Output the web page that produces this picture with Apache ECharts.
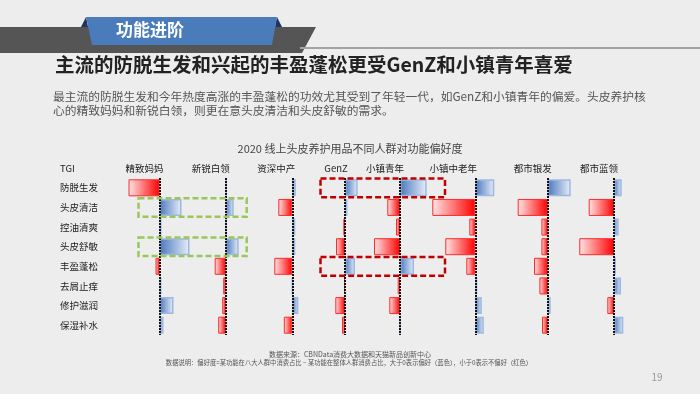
<!DOCTYPE html>
<html><head><meta charset="utf-8">
<script src="https://cdn.jsdelivr.net/npm/echarts@6/dist/echarts.min.js"></script>
<style>html,body{margin:0;padding:0;background:#ededed}#c{width:700px;height:394px}</style>
</head><body><div id="c"></div>
<script>
// ---- data ----
const rows = ['防脱生发','头皮清洁','控油清爽','头皮舒敏','丰盈蓬松','去屑止痒','修护滋润','保湿补水'];
const groups = ['精致妈妈','新锐白领','资深中产','GenZ','小镇青年','小镇中老年','都市银发','都市蓝领'];
const v_jingzhimama   = [-3.1, 2.2, 0.2, 3.0, -0.4, 0.2, 1.4, 0.4];
const v_xinruibailing = [0.1, 0.8, 0.05, 1.3, -1.1, -0.25, -0.35, -0.75];
const v_zishenzhongchan = [0.35, -1.4, 0.3, 0.3, -1.8, 0.0, 0.6, -0.85];
const v_genz          = [1.27, 0.25, -0.17, -0.9, 1.0, -0.1, -0.97, -0.3];
const v_xiaozhenqingnian = [2.67, -1.27, -0.4, -2.6, 1.4, -0.23, -1.07, 0.0];
const v_xiaozhenzhonglaonian = [1.9, -4.3, -0.6, -3.0, -0.9, 0.2, 0.65, 0.85];
const v_dushiyinfa    = [2.3, -3.0, -0.63, -0.63, -1.37, -0.83, 0.3, -0.57];
const v_dushilanling  = [0.77, -2.53, 0.47, -3.47, 0.2, 0.7, -0.67, 0.93];
const groupValues = [v_jingzhimama, v_xinruibailing, v_zishenzhongchan, v_genz, v_xiaozhenqingnian, v_xiaozhenzhonglaonian, v_dushiyinfa, v_dushilanling];
// highlight boxes: row, first group, last group
const boxRows = ['头皮清洁','头皮舒敏','防脱生发','丰盈蓬松'];
const boxFrom = [0, 0, 3, 3];
const boxTo   = [1, 1, 4, 4];

// ---- layout ----
const baselines = [159.5, 225.7, 292.3, 345, 400, 475.3, 547.7, 614];
const headerOffset = [-15, -15, -16, -9, -15, -22, -15, -15];
const GT = 178, GH = 157;
const boxStyle = [
  {padL:21, padR:21, color:'#9bc75a'},
  {padL:21, padR:21, color:'#9bc75a'},
  {padL:24.5, padR:45, color:'#c00000'},
  {padL:24.5, padR:45, color:'#c00000'}
];
const FONT = '"Noto Sans CJK SC","Noto Sans",sans-serif';

const redFill = {type:'linear',x:0,y:0,x2:1,y2:0,colorStops:[{offset:0,color:'#ffe6e6'},{offset:1,color:'#ff0000'}]};
const blueFill = {type:'linear',x:0,y:0,x2:1,y2:0,colorStops:[{offset:0,color:'#4a78bf'},{offset:1,color:'#e8eef8'}]};

const grids = [], xAxes = [], yAxes = [], series = [];
groups.forEach((g, i) => {
  grids.push({left: baselines[i] - 50, width: 100, top: GT, height: GH});
  xAxes.push({gridIndex: i, type: 'value', min: -5, max: 5, show: false});
  yAxes.push({gridIndex: i, type: 'category', data: rows, inverse: true, show: false});
  series.push({
    type: 'bar', name: g, xAxisIndex: i, yAxisIndex: i, barWidth: 17,
    data: groupValues[i].map(v => ({
      value: v,
      itemStyle: v < 0
        ? {color: redFill, borderColor: '#ff2a2a', borderWidth: 1}
        : {color: blueFill, borderColor: '#9db8e2', borderWidth: 1.5}
    })),
    markLine: {
      silent: true, symbol: 'none', label: {show: false},
      lineStyle: {color: '#111', width: 2, type: [2, 1]},
      data: [{xAxis: 0}]
    },
    z: 3
  });
});
// overlay grid for row labels and highlight boxes
const oi = groups.length;
grids.push({left: 60, right: 0, top: GT, height: GH});
xAxes.push({gridIndex: oi, type: 'value', min: 60, max: 700, show: false});
yAxes.push({gridIndex: oi, type: 'category', data: rows, inverse: true,
  axisLine: {show: false}, axisTick: {show: false},
  axisLabel: {inside: true, margin: 0, align: 'left', fontSize: 9.5, color: '#222', fontFamily: FONT}});
series.push({
  type: 'custom', xAxisIndex: oi, yAxisIndex: oi, clip: false, z: 10, silent: true,
  data: boxRows.map((r, k) => [k, rows.indexOf(r)]),
  encode: {x: -1, y: 1},
  renderItem: function (params, api) {
    const k = params.dataIndex;
    const st = boxStyle[k];
    const ri = rows.indexOf(boxRows[k]);
    const x1 = baselines[boxFrom[k]] - st.padL;
    const x2 = baselines[boxTo[k]] + st.padR;
    const p1 = api.coord([x1, ri]);
    const p2 = api.coord([x2, ri]);
    const h = api.size([0, 1])[1] - 1;
    return {type: 'rect', shape: {x: p1[0], y: p1[1] - h / 2, width: p2[0] - p1[0], height: h},
      style: {fill: 'none', stroke: st.color, lineWidth: 2.5, lineDash: [6, 3]}};
  }
});

const graphic = [
  {type:'polygon', shape:{points:[[0,27],[316,27],[302,53],[0,53]]}, style:{fill:'#555555'}, z:1},
  {type:'line', shape:{x1:300,y1:48,x2:700,y2:48}, style:{stroke:'#a3a3a3', lineWidth:2}, z:1},
  {type:'polygon', shape:{points:[[86,17],[88,27],[81,27]]}, style:{fill:'#1d3560'}, z:2},
  {type:'polygon', shape:{points:[[277,17],[275,27],[282,27]]}, style:{fill:'#1d3560'}, z:2},
  {type:'polygon', shape:{points:[[86,17],[277,17],[272,45],[92,45]]}, style:{fill:'#4a7cbb'}, z:3},
  {type:'text', style:{x:150,y:30,text:'功能进阶',fill:'#fff',font:'bold 17px '+FONT,textAlign:'center',textVerticalAlign:'middle'}, z:4},
  {type:'text', style:{x:55,y:65,text:'主流的防脱生发和兴起的丰盈蓬松更受GenZ和小镇青年喜爱',fill:'#222',font:'bold 19.5px '+FONT,textVerticalAlign:'middle'}},
  {type:'text', style:{x:53,y:97,text:'最主流的防脱生发和今年热度高涨的丰盈蓬松的功效尤其受到了年轻一代，如GenZ和小镇青年的偏爱。头皮养护核',fill:'#555',font:'11.75px '+FONT,textVerticalAlign:'middle'}},
  {type:'text', style:{x:53,y:111,text:'心的精致妈妈和新锐白领，则更在意头皮清洁和头皮舒敏的需求。',fill:'#555',font:'11.75px '+FONT,textVerticalAlign:'middle'}},
  {type:'text', style:{x:350,y:149,text:'2020 线上头皮养护用品不同人群对功能偏好度',fill:'#444',font:'11px '+FONT,textAlign:'center',textVerticalAlign:'middle'}},
  {type:'text', style:{x:60,y:168,text:'TGI',fill:'#222',font:'9.5px '+FONT,textVerticalAlign:'middle'}},
  {type:'text', style:{x:350,y:354,text:'数据来源：CBNData消费大数据和天猫新品创新中心',fill:'#555',font:'7px '+FONT,textAlign:'center',textVerticalAlign:'middle'}},
  {type:'text', style:{x:349,y:363,text:'数据说明：偏好度=某功能在八大人群中消费占比 − 某功能在整体人群消费占比，大于0表示偏好（蓝色），小于0表示不偏好（红色）',fill:'#555',font:'6.3px '+FONT,textAlign:'center',textVerticalAlign:'middle'}},
  {type:'text', style:{x:657,y:377,text:'19',fill:'#999',font:'10px '+FONT,textAlign:'center',textVerticalAlign:'middle'}}
];
groups.forEach((g, i) => {
  graphic.push({type:'text', style:{x: baselines[i] + headerOffset[i], y: 168, text: g, fill:'#222', font:'9.5px '+FONT, textAlign:'center', textVerticalAlign:'middle'}});
});

const chart = echarts.init(document.getElementById('c'), null, {renderer: 'canvas'});
chart.setOption({
  backgroundColor: '#ededed',
  animation: false,
  textStyle: {fontFamily: FONT},
  grid: grids, xAxis: xAxes, yAxis: yAxes, series: series, graphic: graphic
});
</script></body></html>
